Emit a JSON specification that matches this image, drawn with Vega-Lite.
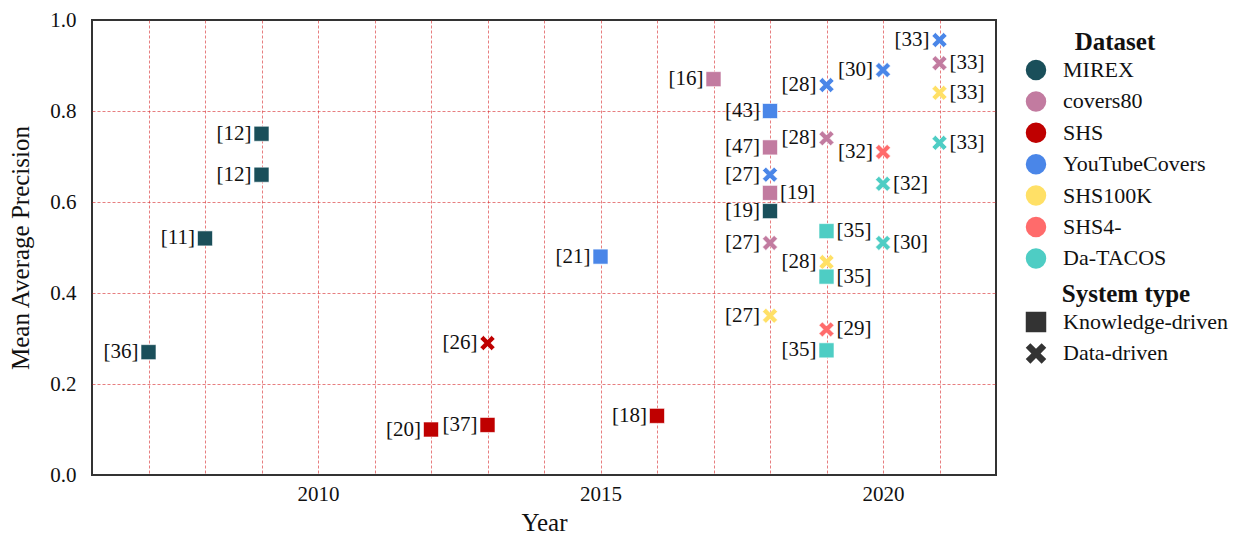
{
  "$schema": "https://vega.github.io/schema/vega-lite/v6.json",
  "width": 904,
  "height": 455,
  "autosize": {"type": "none"},
  "padding": {"left": 92, "top": 20, "right": 244, "bottom": 59},
  "background": "white",
  "config": {
    "font": "Liberation Serif",
    "view": {"stroke": "#333333", "strokeWidth": 2},
    "axis": {
      "labelFont": "Liberation Serif",
      "titleFont": "Liberation Serif",
      "labelFontSize": 21,
      "titleFontSize": 25,
      "titleFontWeight": "normal",
      "labelColor": "#111111",
      "titleColor": "#111111",
      "ticks": false,
      "domain": false,
      "grid": true,
      "gridColor": {"condition": {"test": "datum.value == 0 || datum.value == 1 || datum.value == 2006 || datum.value == 2022", "value": "transparent"}, "value": "#d62728"},
      "gridOpacity": 0.75,
      "gridWidth": 0.8,
      "gridDash": [3, 2]
    },
    "legend": {
      "labelFont": "Liberation Serif",
      "titleFont": "Liberation Serif",
      "labelFontSize": 22,
      "titleFontSize": 25,
      "titleFontWeight": "bold",
      "labelColor": "#111111",
      "titleColor": "#111111",
      "labelLimit": 300
    }
  },
  "data": {
    "values": [
      {"dataset": "MIREX", "type": "Knowledge-driven", "year": 2007, "map": 0.27, "ref": "[36]", "side": "left"},
      {"dataset": "MIREX", "type": "Knowledge-driven", "year": 2008, "map": 0.52, "ref": "[11]", "side": "left"},
      {"dataset": "MIREX", "type": "Knowledge-driven", "year": 2009, "map": 0.75, "ref": "[12]", "side": "left"},
      {"dataset": "MIREX", "type": "Knowledge-driven", "year": 2009, "map": 0.66, "ref": "[12]", "side": "left"},
      {"dataset": "MIREX", "type": "Knowledge-driven", "year": 2018, "map": 0.58, "ref": "[19]", "side": "left"},
      {"dataset": "covers80", "type": "Knowledge-driven", "year": 2017, "map": 0.87, "ref": "[16]", "side": "left"},
      {"dataset": "covers80", "type": "Knowledge-driven", "year": 2018, "map": 0.72, "ref": "[47]", "side": "left"},
      {"dataset": "covers80", "type": "Knowledge-driven", "year": 2018, "map": 0.62, "ref": "[19]", "side": "right"},
      {"dataset": "covers80", "type": "Data-driven", "year": 2018, "map": 0.51, "ref": "[27]", "side": "left"},
      {"dataset": "covers80", "type": "Data-driven", "year": 2019, "map": 0.74, "ref": "[28]", "side": "left"},
      {"dataset": "covers80", "type": "Data-driven", "year": 2021, "map": 0.905, "ref": "[33]", "side": "right"},
      {"dataset": "SHS", "type": "Knowledge-driven", "year": 2012, "map": 0.1, "ref": "[20]", "side": "left"},
      {"dataset": "SHS", "type": "Knowledge-driven", "year": 2013, "map": 0.11, "ref": "[37]", "side": "left"},
      {"dataset": "SHS", "type": "Data-driven", "year": 2013, "map": 0.29, "ref": "[26]", "side": "left"},
      {"dataset": "SHS", "type": "Knowledge-driven", "year": 2016, "map": 0.13, "ref": "[18]", "side": "left"},
      {"dataset": "YouTubeCovers", "type": "Knowledge-driven", "year": 2015, "map": 0.48, "ref": "[21]", "side": "left"},
      {"dataset": "YouTubeCovers", "type": "Knowledge-driven", "year": 2018, "map": 0.8, "ref": "[43]", "side": "left"},
      {"dataset": "YouTubeCovers", "type": "Data-driven", "year": 2018, "map": 0.66, "ref": "[27]", "side": "left"},
      {"dataset": "YouTubeCovers", "type": "Data-driven", "year": 2019, "map": 0.857, "ref": "[28]", "side": "left"},
      {"dataset": "YouTubeCovers", "type": "Data-driven", "year": 2020, "map": 0.89, "ref": "[30]", "side": "left"},
      {"dataset": "YouTubeCovers", "type": "Data-driven", "year": 2021, "map": 0.956, "ref": "[33]", "side": "left"},
      {"dataset": "SHS100K", "type": "Data-driven", "year": 2018, "map": 0.35, "ref": "[27]", "side": "left"},
      {"dataset": "SHS100K", "type": "Data-driven", "year": 2019, "map": 0.468, "ref": "[28]", "side": "left"},
      {"dataset": "SHS100K", "type": "Data-driven", "year": 2021, "map": 0.84, "ref": "[33]", "side": "right"},
      {"dataset": "SHS4-", "type": "Data-driven", "year": 2019, "map": 0.32, "ref": "[29]", "side": "right"},
      {"dataset": "SHS4-", "type": "Data-driven", "year": 2020, "map": 0.71, "ref": "[32]", "side": "left"},
      {"dataset": "Da-TACOS", "type": "Knowledge-driven", "year": 2019, "map": 0.536, "ref": "[35]", "side": "right"},
      {"dataset": "Da-TACOS", "type": "Knowledge-driven", "year": 2019, "map": 0.436, "ref": "[35]", "side": "right"},
      {"dataset": "Da-TACOS", "type": "Knowledge-driven", "year": 2019, "map": 0.274, "ref": "[35]", "side": "left"},
      {"dataset": "Da-TACOS", "type": "Data-driven", "year": 2020, "map": 0.64, "ref": "[32]", "side": "right"},
      {"dataset": "Da-TACOS", "type": "Data-driven", "year": 2020, "map": 0.51, "ref": "[30]", "side": "right"},
      {"dataset": "Da-TACOS", "type": "Data-driven", "year": 2021, "map": 0.73, "ref": "[33]", "side": "right"}
    ]
  },
  "encoding": {
    "x": {
      "field": "year",
      "type": "quantitative",
      "scale": {"domain": [2006, 2022], "nice": false, "zero": false},
      "axis": {
        "title": "Year",
        "values": [2006, 2007, 2008, 2009, 2010, 2011, 2012, 2013, 2014, 2015, 2016, 2017, 2018, 2019, 2020, 2021, 2022],
        "labelExpr": "datum.value % 5 == 0 ? format(datum.value, 'd') : ''",
        "labelPadding": 8,
        "titlePadding": 6
      }
    },
    "y": {
      "field": "map",
      "type": "quantitative",
      "scale": {"domain": [0, 1], "nice": false},
      "axis": {
        "title": "Mean Average Precision",
        "values": [0, 0.2, 0.4, 0.6, 0.8, 1.0],
        "format": ".1f",
        "labelPadding": 16,
        "titlePadding": 16
      }
    }
  },
  "layer": [
    {
      "mark": {"type": "point", "filled": true, "opacity": 1, "size": 225, "stroke": "white", "strokeWidth": 0.6},
      "encoding": {
        "color": {
          "field": "dataset",
          "type": "nominal",
          "title": "Dataset",
          "scale": {
            "domain": ["MIREX", "covers80", "SHS", "YouTubeCovers", "SHS100K", "SHS4-", "Da-TACOS"],
            "range": ["#1a4f5a", "#c27ba0", "#bf0000", "#4a86e8", "#ffe066", "#ff6b6b", "#4ecdc4"]
          },
          "legend": {
            "orient": "none",
            "legendX": 925,
            "legendY": 2,
            "symbolType": "circle",
            "symbolSize": 420,
            "symbolOpacity": 1,
            "symbolStrokeWidth": 0,
            "labelOffset": 16,
            "rowPadding": 9.4,
            "titlePadding": 4,
            "titleAnchor": "middle",
            "titleBaseline": "top",
            "padding": 8
          }
        },
        "shape": {
          "field": "type",
          "type": "nominal",
          "title": "System type",
          "scale": {
            "domain": ["Knowledge-driven", "Data-driven"],
            "range": ["square", "M-1,-0.55L-0.55,-1L0,-0.45L0.55,-1L1,-0.55L0.45,0L1,0.55L0.55,1L0,0.45L-0.55,1L-1,0.55L-0.45,0Z"]
          },
          "legend": {
            "orient": "none",
            "legendX": 925,
            "legendY": 254,
            "symbolSize": 420,
            "symbolFillColor": "#333333",
            "symbolStrokeColor": "#333333",
            "symbolStrokeWidth": 0,
            "symbolOpacity": 1,
            "labelOffset": 16,
            "rowPadding": 9.4,
            "titlePadding": 4,
            "titleAnchor": "middle",
            "titleBaseline": "top",
            "padding": 8
          }
        }
      }
    },
    {
      "transform": [{"filter": "datum.side == 'left'"}],
      "mark": {"type": "text", "align": "right", "baseline": "middle", "dx": -10, "fontSize": 21, "font": "Liberation Serif", "color": "#111111"},
      "encoding": {"text": {"field": "ref"}}
    },
    {
      "transform": [{"filter": "datum.side == 'right'"}],
      "mark": {"type": "text", "align": "left", "baseline": "middle", "dx": 10, "fontSize": 21, "font": "Liberation Serif", "color": "#111111"},
      "encoding": {"text": {"field": "ref"}}
    }
  ]
}
